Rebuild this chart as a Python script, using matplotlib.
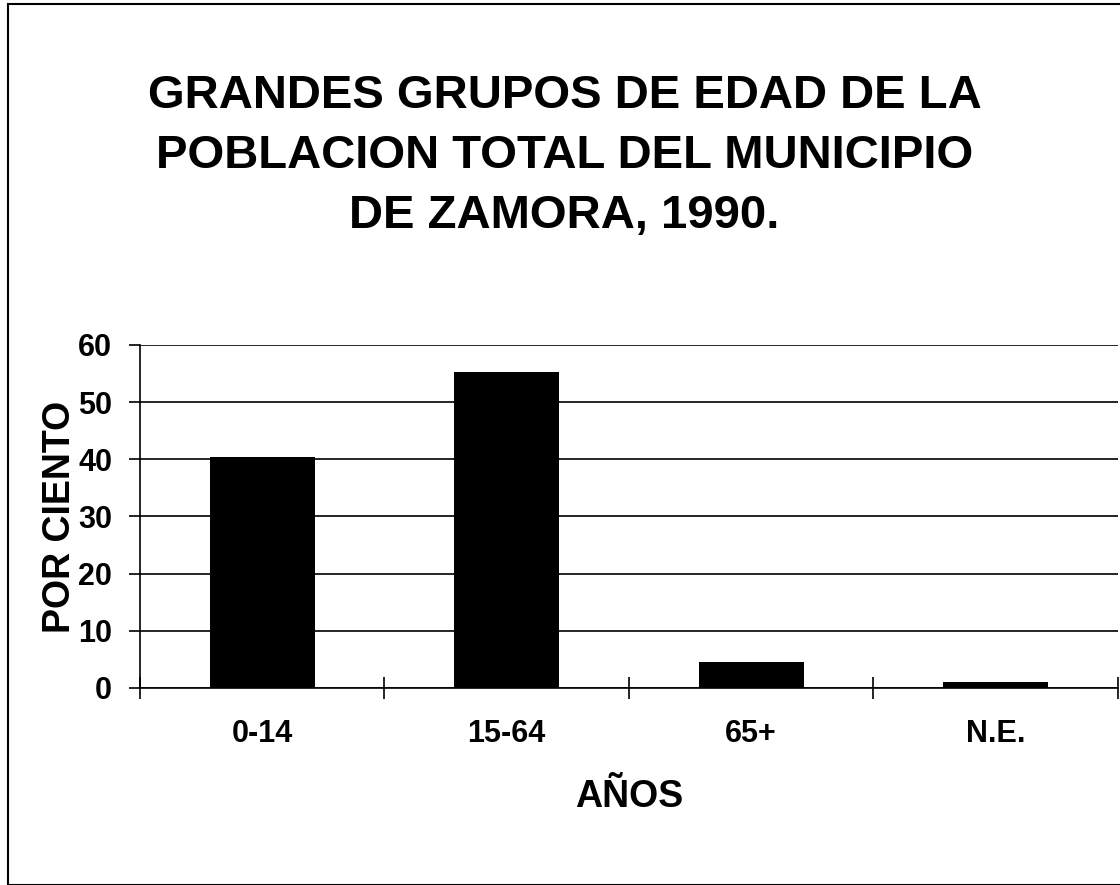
import matplotlib.pyplot as plt
from matplotlib.patches import Rectangle

# datos del grafico
grupos = ['0-14', '15-64', '65+', 'N.E.']
porcentajes = [40.4, 55.2, 4.6, 1.0]
yticks = [0, 10, 20, 30, 40, 50, 60]

plt.rcParams['font.family'] = ['Liberation Sans', 'DejaVu Sans']

fig = plt.figure(figsize=(11.2, 8.85), dpi=100)
ax = fig.add_axes([0.125, 0.2226, 0.873, 0.3876])

x = range(len(grupos))
ax.bar(x, porcentajes, width=0.43, color='black', zorder=3)

ax.set_xlim(-0.5, len(grupos) - 0.5)
ax.set_ylim(0, 60)
ax.set_yticks(yticks)
ax.set_yticklabels([str(v) for v in yticks], fontsize=22, fontweight='bold')
ax.set_xticks(list(x))
ax.set_xticklabels(grupos, fontsize=22, fontweight='bold')
ax.tick_params(axis='x', which='major', length=0, pad=22)
ax.set_xticks([i - 0.5 for i in range(len(grupos) + 1)], minor=True)
ax.tick_params(axis='x', which='minor', direction='inout', length=16, width=1.2)
ax.tick_params(axis='y', direction='out', length=8, width=1.2, pad=12)

ax.grid(axis='y', color='black', linewidth=1.2, zorder=1)
ax.spines['top'].set_visible(False)
ax.spines['right'].set_visible(False)
ax.spines['left'].set_linewidth(1.2)
ax.spines['bottom'].set_linewidth(1.2)

ax.set_ylabel('POR CIENTO', fontsize=27, fontweight='bold', labelpad=0)
ax.set_xlabel('AÑOS', fontsize=27, fontweight='bold', labelpad=22)

fig.text(0.504, 0.8237, 'GRANDES GRUPOS DE EDAD DE LA\nPOBLACION TOTAL DEL MUNICIPIO\nDE ZAMORA, 1990.',
         ha='center', va='center', fontsize=34, fontweight='bold', linespacing=1.47)

fig.patches.append(Rectangle((0.007, 0.0), 0.995, 0.995, transform=fig.transFigure,
                             fill=False, edgecolor='black', linewidth=1.5))

fig.savefig('out.png', dpi=100)
